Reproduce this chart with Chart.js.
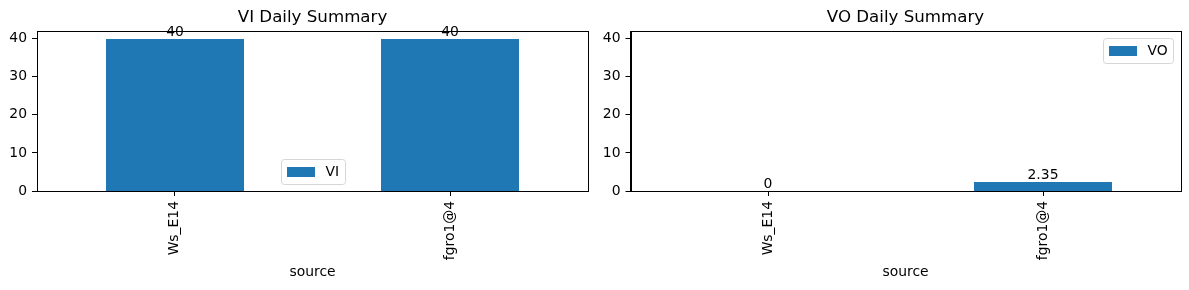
<!DOCTYPE html>
<html>
<head>
<meta charset="utf-8">
<script src="https://cdn.jsdelivr.net/npm/chart.js@4"></script>
<style>
  html, body { margin: 0; padding: 0; background: #fff; }
  #wrap { position: relative; width: 1189px; height: 290px; }
  canvas { position: absolute; top: 0; }
</style>
</head>
<body>
<div id="wrap">
  <canvas id="viChart" width="600" height="290" style="left:0"></canvas>
  <canvas id="voChart" width="589" height="290" style="left:600px"></canvas>
</div>
<script>
// data
const categories = ["Ws_E14", "fgro1@4"];
const viValues = [40, 40];
const voValues = [0, 2.35];
const yTicks = [0, 10, 20, 30, 40];
const yMax = 42;

const BLUE = "#1f77b4";
const FONT = "'DejaVu Sans', sans-serif";
const FS = 13.9;

Chart.defaults.font.family = FONT;
Chart.defaults.color = "#000";

// snap bar edges to whole pixels so they come out crisp
const snapPlugin = {
  id: "snap",
  afterDatasetsUpdate(chart) {
    chart.data.datasets.forEach((ds, i) => {
      chart.getDatasetMeta(i).data.forEach(bar => {
        const l = Math.round(bar.x - bar.width / 2);
        const r = Math.round(bar.x + bar.width / 2);
        bar.x = (l + r) / 2;
        bar.width = r - l;
        bar.y = Math.round(bar.y);
        bar.base = Math.round(bar.base);
      });
    });
  }
};

// axes frame on all four sides, like matplotlib spines
const boxPlugin = {
  id: "box",
  beforeDatasetsDraw(chart) {
    const { ctx, chartArea: a } = chart;
    ctx.save();
    ctx.strokeStyle = "#000";
    ctx.lineWidth = 1;
    ctx.strokeRect(Math.round(a.left) + 0.5, Math.round(a.top) + 0.5,
      Math.round(a.right) - Math.round(a.left), Math.round(a.bottom) - Math.round(a.top));
    ctx.restore();
  }
};

// value labels on top of bars (bar_label)
const barLabelPlugin = {
  id: "barLabel",
  afterDatasetsDraw(chart) {
    const { ctx } = chart;
    ctx.save();
    ctx.font = FS + "px " + FONT;
    ctx.fillStyle = "#000";
    ctx.textAlign = "center";
    ctx.textBaseline = "alphabetic";
    chart.data.datasets.forEach((ds, i) => {
      chart.getDatasetMeta(i).data.forEach((bar, j) => {
        ctx.fillText(String(ds.data[j]), bar.x, bar.y - 3.3);
      });
    });
    ctx.restore();
  }
};

// legend drawn inside the axes
const innerLegendPlugin = {
  id: "innerLegend",
  afterDraw(chart, args, opts) {
    const { ctx, chartArea: a } = chart;
    const label = chart.data.datasets[0].label;
    ctx.save();
    ctx.font = FS + "px " + FONT;
    const pad = 5.6, handle = 27.8, gap = 11.1, edge = 7;
    const tw = ctx.measureText(label).width;
    const w = pad + handle + gap + tw + pad;
    const h = pad * 2 + FS;
    let x, y;
    if (opts.where === "bottom") {
      x = (a.left + a.right) / 2 - w / 2;
      y = a.bottom - edge - h;
    } else {
      x = a.right - edge - w;
      y = a.top + edge;
    }
    x = Math.round(x);
    y = Math.round(y);
    ctx.beginPath();
    ctx.roundRect(x + 0.5, y + 0.5, Math.round(w), Math.round(h), 2.8);
    ctx.fillStyle = "rgba(255,255,255,0.8)";
    ctx.fill();
    ctx.strokeStyle = "#d6d6d6";
    ctx.lineWidth = 1;
    ctx.stroke();
    ctx.fillStyle = BLUE;
    ctx.fillRect(x + 6, Math.round(y + h / 2 - 5), 28, 10);
    ctx.fillStyle = "#000";
    ctx.textBaseline = "middle";
    ctx.fillText(label, x + pad + handle + gap, y + h / 2 + 1);
    ctx.restore();
  }
};

function makeChart(id, title, label, values, axisWidth, padRight, legendWhere) {
  return new Chart(document.getElementById(id), {
    type: "bar",
    data: {
      labels: categories,
      datasets: [{
        label: label,
        data: values,
        backgroundColor: BLUE,
        borderColor: BLUE,
        borderWidth: 0,
        inflateAmount: 0,
        barPercentage: 0.5,
        categoryPercentage: 1.0
      }]
    },
    options: {
      responsive: false,
      animation: false,
      devicePixelRatio: 1,
      layout: { padding: { left: 0, right: padRight, top: 0, bottom: 0 } },
      plugins: {
        legend: { display: false },
        tooltip: { enabled: false },
        title: {
          display: true,
          text: title,
          fullSize: false,
          color: "#000",
          font: { size: 16.67, weight: "normal" },
          padding: { top: 8, bottom: 3 }
        },
        innerLegend: { where: legendWhere }
      },
      scales: {
        x: {
          offset: true,
          grid: { offset: false, drawOnChartArea: false, tickLength: 5, tickColor: "#000" },
          border: { color: "#000" },
          ticks: { maxRotation: 90, minRotation: 90, autoSkip: false, padding: 5, color: "#000", font: { size: FS } },
          title: { display: true, text: "source", color: "#000", font: { size: FS }, padding: { top: 0, bottom: 9 } },
          afterFit: s => { s.height = 99; }
        },
        y: {
          min: 0,
          max: yMax,
          grid: { drawOnChartArea: false, tickLength: 5, tickColor: "#000" },
          border: { color: "#000" },
          ticks: { padding: 5, color: "#000", font: { size: FS } },
          afterBuildTicks: s => { s.ticks = yTicks.map(v => ({ value: v })); },
          afterFit: s => { s.width = axisWidth; }
        }
      }
    },
    plugins: [snapPlugin, boxPlugin, barLabelPlugin, innerLegendPlugin]
  });
}

makeChart("viChart", "VI Daily Summary", "VI", viValues, 37, 12, "bottom");
makeChart("voChart", "VO Daily Summary", "VO", voValues, 30.5, 8.5, "topright");
</script>
</body>
</html>
